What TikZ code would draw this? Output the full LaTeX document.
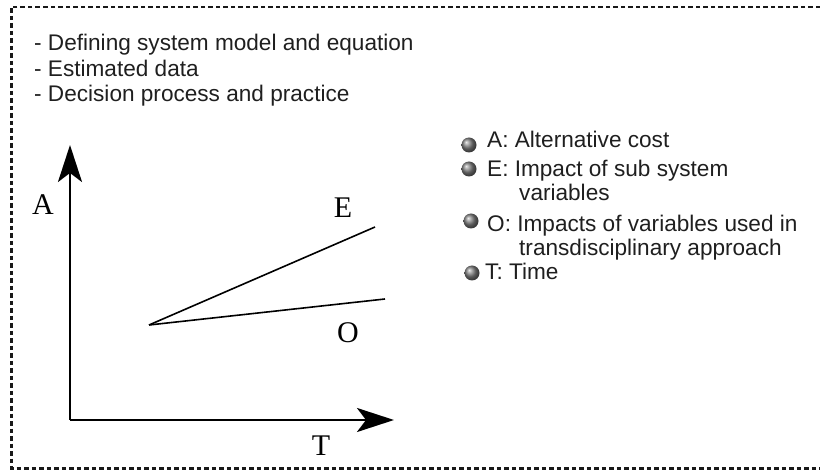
\documentclass[tikz,border=0pt]{standalone}
\usepackage{fontspec}
\setmainfont{Liberation Serif}
\setsansfont{Liberation Sans}
\usetikzlibrary{arrows.meta}
\begin{document}
\begin{tikzpicture}[x=1pt,y=-1pt,
  frame/.style={line width=2.4pt,dash pattern=on 4.5pt off 3pt,black!90},
  axis/.style={line width=2.6pt,-{Stealth[length=37pt,width=24pt,inset=9pt]}},
  curve/.style={line width=1.6pt},
  txt/.style={font=\sffamily\fontsize{22.6}{24}\selectfont,anchor=base west,inner sep=0pt,text=black!88},
  lab/.style={font=\rmfamily\fontsize{30}{32}\selectfont,inner sep=0pt},
  ball/.style={circle,minimum size=15pt,inner sep=0pt,ball color=black!50,shading=ball}]
\useasboundingbox (0,0) rectangle (820,470);
\draw[frame] (835,7) -- (11.5,7) -- (11.5,468.5) -- (835,468.5);
% top text
\node[txt] (t1) at (34,51) {- Defining system model and equation};
\node[txt] (t2) at (34,77) {- Estimated data};
\node[txt] (t3) at (34,102) {- Decision process and practice};
% axes
\coordinate (o) at (70,420);
\coordinate (ytip) at (70,145);
\coordinate (xtip) at (394,420);
\draw[axis] (o) -- (ytip);
\draw[axis] (o) -- (xtip);
% lines
\coordinate (s) at (149,325);
\coordinate (e) at (375,227);
\coordinate (oe) at (385,299);
\draw[curve] (s) -- (e);
\draw[curve] (s) -- (oe);
\node[lab] (la) at (43,205) {A};
\node[lab] (le) at (343,208) {E};
\node[lab] (lo) at (348,333) {O};
\node[lab] (lt) at (321,446) {T};
% legend
\node[ball] (b1) at (469,145) {};
\node[ball] (b2) at (469,169) {};
\node[ball] (b3) at (471,221) {};
\node[ball] (b4) at (472,273) {};
\node[txt] (l1) at (487,148) {A: Alternative cost};
\node[txt] (l2) at (487,177) {E: Impact of sub system};
\node[txt] (l2b) at (519,201) {variables};
\node[txt] (l3) at (487,232) {O: Impacts of variables used in};
\node[txt] (l3b) at (519,256) {transdisciplinary approach};
\node[txt] (l4) at (485,280) {T: Time};
\end{tikzpicture}
\end{document}
